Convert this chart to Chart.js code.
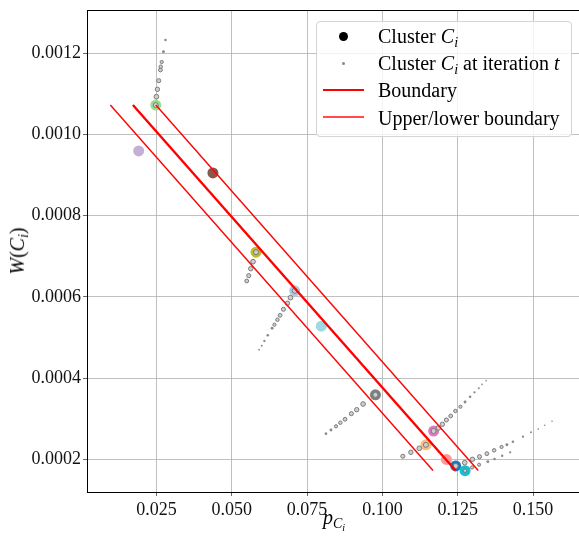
<!DOCTYPE html>
<html><head><meta charset="utf-8">
<script src="https://cdn.jsdelivr.net/npm/chart.js@4.4.1/dist/chart.umd.min.js"></script>
<style>
html,body{margin:0;padding:0;background:#fff;overflow:hidden}
#wrap{position:relative;width:579px;height:539px;overflow:hidden;font-family:"Liberation Serif",serif;color:#000}
#c{position:absolute;left:0;top:0}
.ttl{position:absolute;font-size:20px;white-space:nowrap;line-height:1}
.s1{font-size:0.7em;vertical-align:-0.28em}
.s2{font-size:0.72em;vertical-align:-0.22em}
#legend{position:absolute;left:316px;top:21px;width:256px;height:116px;border:1px solid #d4d4d4;border-radius:4px;background:rgba(255,255,255,0.8);box-sizing:border-box}
.lt{position:absolute;left:61px;font-size:20px;line-height:1;white-space:nowrap}
.mk{position:absolute}
</style>
</head><body>
<div id="wrap">
<canvas id="c" width="586" height="539"></canvas>
<div class="ttl" id="xt" style="left:334px;top:520px;transform:translate(-50%,-50%)"><i>p</i><span class="s1"><i>C</i><span class="s2"><i>i</i></span></span></div>
<div class="ttl" id="yt" style="left:19px;top:251px;transform:translate(-50%,-50%) rotate(-90deg)"><i>W</i>(<i>C</i><span class="s1"><i>i</i></span>)</div>
<div id="legend">
  <div class="mk" style="left:22px;top:10px;width:9px;height:9px;border-radius:50%;background:#000"></div>
  <div class="lt" style="top:4px">Cluster <i>C</i><span class="s1"><i>i</i></span></div>
  <div class="mk" style="left:25px;top:40px;width:3px;height:3px;border-radius:50%;background:#888"></div>
  <div class="lt" style="top:31px">Cluster <i>C</i><span class="s1"><i>i</i></span> at iteration <i>t</i></div>
  <div class="mk" style="left:6px;top:67px;width:41px;height:2px;background:#ff0000"></div>
  <div class="lt" style="top:58px">Boundary</div>
  <div class="mk" style="left:6px;top:94px;width:41px;height:2px;background:rgba(255,0,0,0.7)"></div>
  <div class="lt" style="top:86px">Upper/lower boundary</div>
</div>
</div>
<script>
// ---- data ----
const clusterX = [0.02477,0.01911,0.04375,0.05807,0.07089,0.07971,0.09769,0.11700,0.11444,0.12124,0.12433,0.12743];
const clusterY = [0.001072,0.000959,0.000905,0.000710,0.000615,0.000528,0.000359,0.000270,0.000236,0.000200,0.000184,0.0001725];
const clusterColors = ['#98df8a','#c5b0d5','#8c564b','#bcbd22','#aec7e8','#9edae5','#7f7f7f','#e377c2','#ffbb78','#ff9896','#1f77b4','#17becf'];

const greenIterX = [0.02477,0.02500,0.02533,0.02577,0.02633,0.02643,0.02676,0.02733,0.02800];
const greenIterY = [0.001072,0.0010925,0.0011107,0.0011319,0.0011582,0.0011663,0.0011779,0.0012032,0.001232];
const oliveIterX = [0.05807,0.05707,0.05630,0.05564,0.05497];
const oliveIterY = [0.000710,0.0006866,0.0006694,0.0006522,0.0006391];
const lightBlueIterX = [0.07089,0.06949,0.06849,0.06716,0.06606,0.06516,0.06416,0.06339,0.06196,0.06083,0.05996,0.05907];
const lightBlueIterY = [0.000615,0.000598,0.0005843,0.0005695,0.0005547,0.0005439,0.0005316,0.0005227,0.0005055,0.0004915,0.000480,0.0004701];
const grayIterX = [0.09769,0.09360,0.09147,0.08970,0.08760,0.08604,0.08461,0.08294,0.08128];
const grayIterY = [0.000359,0.0003365,0.0003225,0.0003127,0.0002989,0.0002905,0.0002817,0.0002726,0.0002635];
const pinkIterX = [0.11700,0.11857,0.11990,0.12124,0.12267,0.12423,0.12590,0.12743,0.12910,0.13056,0.13199,0.13309,0.13442];
const pinkIterY = [0.000270,0.0002775,0.0002866,0.0002972,0.000307,0.0003193,0.0003299,0.0003415,0.0003545,0.0003653,0.0003751,0.000385,0.0003939];
const orangeIterX = [0.11444,0.11225,0.10945,0.10678];
const orangeIterY = [0.000236,0.0002275,0.0002177,0.0002079];
const blueIterX = [0.12433,0.12733,0.12990,0.13223,0.13466,0.13709,0.13955,0.14132,0.14332,0.14665,0.14931,0.15174,0.15387,0.15630];
const blueIterY = [0.000184,0.0001921,0.0002005,0.0002069,0.0002143,0.0002226,0.0002308,0.0002364,0.0002438,0.0002561,0.0002669,0.000275,0.0002841,0.000294];
const cyanIterX = [0.12743,0.12976,0.13209,0.13500,0.13722,0.13975,0.14241];
const cyanIterY = [0.0001725,0.0001803,0.0001872,0.0001946,0.0002012,0.0002094,0.0002177];

const boundaryX = [0.0172, 0.1243];
const boundaryY = [0.001072, 0.000173];
const upperX = [0.0248, 0.1318];
const lowerX = [0.0097, 0.1168];

const xTicks = [0.025,0.050,0.075,0.100,0.125,0.150];
const xTickLabels = ['0.025','0.050','0.075','0.100','0.125','0.150'];
const yTicks = [0.0002,0.0004,0.0006,0.0008,0.0010,0.0012];
const yTickLabels = ['0.0002','0.0004','0.0006','0.0008','0.0010','0.0012'];
const xRange = [0.00196, 0.16575];
const yRange = [0.00012, 0.0013058];

// ---- build ----
const pts = (xs, ys) => xs.map((x, i) => ({x: x, y: ys[i]}));
const iterSets = [
  [greenIterX, greenIterY, 1], [oliveIterX, oliveIterY, 1], [lightBlueIterX, lightBlueIterY, 1],
  [grayIterX, grayIterY, 1], [pinkIterX, pinkIterY, 1], [orangeIterX, orangeIterY, 1],
  [blueIterX, blueIterY, 1], [cyanIterX, cyanIterY, 0.7]
];
const datasets = [];
datasets.push({
  data: pts(clusterX, clusterY), order: 3,
  pointRadius: 5.5, pointBackgroundColor: clusterColors, pointBorderWidth: 0, showLine: false
});
const rad = (ctx, k) => (2.5 - 0.15 * ctx.dataIndex) * k;
iterSets.forEach(([xs, ys, k]) => {
  datasets.push({
    data: pts(xs, ys), order: 2, showLine: false,
    pointRadius: ctx => Math.max(0.8, rad(ctx, k)),
    pointBackgroundColor: ctx => rad(ctx, k) > 1.5 ? '#cfcfcf' : '#8a8a8a',
    pointBorderColor: '#7a7a7a', pointBorderWidth: ctx => rad(ctx, k) > 1.5 ? 1 : 0
  });
});
datasets.push({data: pts(boundaryX, boundaryY), order: 0, showLine: true, borderColor: '#ff0000', borderWidth: 2.4, pointRadius: 0});
datasets.push({data: pts(upperX, boundaryY), order: 1, showLine: true, borderColor: '#ff0000', borderWidth: 1.4, pointRadius: 0});
datasets.push({data: pts(lowerX, boundaryY), order: 1, showLine: true, borderColor: '#ff0000', borderWidth: 1.4, pointRadius: 0});

const frame = {
  id: 'frame',
  afterDatasetsDraw(chart) {
    const a = chart.chartArea, c = chart.ctx;
    c.save(); c.strokeStyle = '#000'; c.lineWidth = 1;
    c.beginPath(); c.moveTo(a.left, Math.round(a.top) + 0.5); c.lineTo(a.right, Math.round(a.top) + 0.5); c.stroke();
    c.restore();
  }
};
const tickFont = {family: 'Liberation Serif', size: 18};
new Chart(document.getElementById('c'), {
  type: 'scatter',
  data: {datasets},
  options: {
    responsive: false, animation: false, events: [],
    layout: {padding: {top: 10, left: 0, right: 0, bottom: 0}},
    plugins: {legend: {display: false}, tooltip: {enabled: false}},
    scales: {
      x: {
        type: 'linear', min: xRange[0], max: xRange[1],
        afterBuildTicks: s => { s.ticks = xTicks.map(v => ({value: v})); },
        afterFit: s => { s.height = 47; s.paddingLeft = 0; s.paddingRight = 0; },
        ticks: {font: tickFont, color: '#111', padding: 3, maxRotation: 0, autoSkip: false,
                callback: (v, i) => xTickLabels[i]},
        grid: {color: '#b0b0b0', lineWidth: 0.8, tickLength: 4, tickColor: '#444', drawTicks: true},
        border: {color: '#000', width: 1}
      },
      y: {
        type: 'linear', min: yRange[0], max: yRange[1],
        afterBuildTicks: s => { s.ticks = yTicks.map(v => ({value: v})); },
        afterFit: s => { s.width = 87; s.paddingTop = 0; s.paddingBottom = 0; },
        ticks: {font: tickFont, color: '#111', padding: 2, autoSkip: false,
                callback: (v, i) => yTickLabels[i]},
        grid: {color: '#b0b0b0', lineWidth: 0.8, tickLength: 4, tickColor: '#444', drawTicks: true},
        border: {color: '#000', width: 1}
      }
    }
  },
  plugins: [frame]
});
</script>
</body></html>
